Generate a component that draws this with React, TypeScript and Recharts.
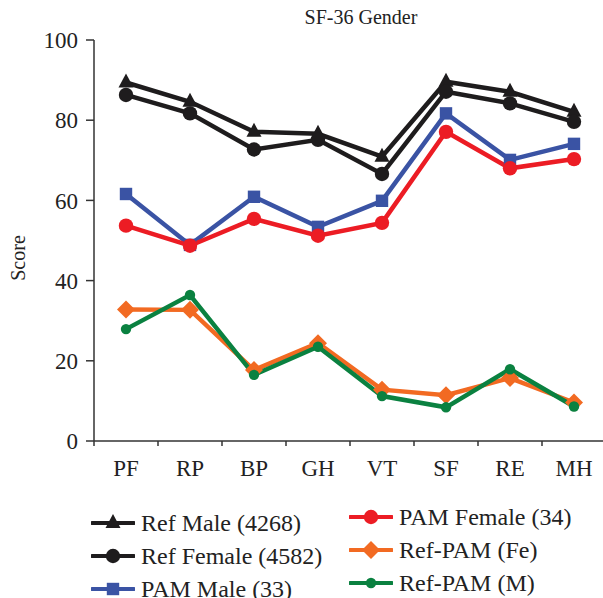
import React from 'react';
import { LineChart, Line, XAxis, YAxis } from 'recharts';

const categories = ['PF', 'RP', 'BP', 'GH', 'VT', 'SF', 'RE', 'MH'];
const refMale = [89.4, 84.6, 77.1, 76.6, 70.9, 89.6, 87.1, 82.1];
const refFemale = [86.3, 81.7, 72.7, 75.1, 66.6, 87.1, 84.2, 79.6];
const pamMale = [61.6, 48.9, 60.9, 53.4, 59.9, 81.7, 70.1, 74.1];
const pamFemale = [53.7, 48.7, 55.4, 51.2, 54.4, 77.1, 68.0, 70.3];
const refPamFe = [32.8, 32.7, 17.7, 24.4, 12.8, 11.4, 15.7, 9.6];
const refPamM = [27.9, 36.4, 16.5, 23.5, 11.2, 8.4, 17.9, 8.6];
const yTicks = [0, 20, 40, 60, 80, 100];

const data = categories.map((c, i) => ({
  cat: c,
  refMale: refMale[i],
  refFemale: refFemale[i],
  pamMale: pamMale[i],
  pamFemale: pamFemale[i],
  refPamFe: refPamFe[i],
  refPamM: refPamM[i],
}));

const FONT = '"Liberation Serif", "Times New Roman", serif';
const BLACK = '#1e1c1d';
const BLUE = '#3a53a4';
const RED = '#ec1c24';
const ORANGE = '#f26a22';
const GREEN = '#0a8140';

type MarkerKind = 'triangle' | 'circle' | 'square' | 'diamond' | 'smallCircle';

const marker = (kind: MarkerKind, cx: number, cy: number, color: string, key?: any) => {
  switch (kind) {
    case 'triangle':
      return <path key={key} d={`M${cx},${cy - 9} L${cx + 7.5},${cy + 5} L${cx - 7.5},${cy + 5} Z`} fill={color} />;
    case 'circle':
      return <circle key={key} cx={cx} cy={cy} r={7.2} fill={color} />;
    case 'square':
      return <rect key={key} x={cx - 6.2} y={cy - 6.2} width={12.4} height={12.4} fill={color} />;
    case 'diamond':
      return <path key={key} d={`M${cx},${cy - 9} L${cx + 9},${cy} L${cx},${cy + 9} L${cx - 9},${cy} Z`} fill={color} />;
    default:
      return <circle key={key} cx={cx} cy={cy} r={5.2} fill={color} />;
  }
};

const dotFn = (kind: MarkerKind, color: string) => (props: any) =>
  marker(kind, props.cx, props.cy, color, `${kind}-${props.index}`);

const XTick = (props: any) => {
  const { x, y, payload } = props;
  return (
    <g>
      <line x1={x - 32} y1={y} x2={x - 32} y2={y + 5} stroke="#333" strokeWidth={1.5} />
      <text x={x} y={y + 35} textAnchor="middle" fontFamily={FONT} fontSize={23} fill="#222">
        {payload.value}
      </text>
    </g>
  );
};

const ScoreLabel = () => (
  <text
    x={25}
    y={258}
    transform="rotate(-90, 25, 258)"
    textAnchor="middle"
    fontFamily={FONT}
    fontSize={20}
    fill="#222"
  >
    Score
  </text>
);

const legendLeft = [
  { name: 'Ref Male (4268)', color: BLACK, kind: 'triangle' as MarkerKind },
  { name: 'Ref Female (4582)', color: BLACK, kind: 'circle' as MarkerKind },
  { name: 'PAM Male (33)', color: BLUE, kind: 'square' as MarkerKind },
];
const legendRight = [
  { name: 'PAM Female (34)', color: RED, kind: 'circle' as MarkerKind },
  { name: 'Ref-PAM (Fe)', color: ORANGE, kind: 'diamond' as MarkerKind },
  { name: 'Ref-PAM (M)', color: GREEN, kind: 'smallCircle' as MarkerKind },
];

const LegendItem = ({ item, x, y }: { item: any; x: number; y: number }) => (
  <div style={{ position: 'absolute', left: x, top: y - 16, height: 32, display: 'flex', alignItems: 'center' }}>
    <svg width={44} height={32} style={{ marginRight: 6 }}>
      <line x1={1} y1={16} x2={43} y2={16} stroke={item.color} strokeWidth={4} strokeLinecap="round" />
      {marker(item.kind, 22, 16, item.color)}
    </svg>
    <span style={{ fontFamily: FONT, fontSize: 24, color: '#222', whiteSpace: 'nowrap' }}>{item.name}</span>
  </div>
);

const App: React.FC = () => {
  return (
    <div style={{ position: 'absolute', left: 0, top: 0, width: 603, height: 598, overflow: 'hidden', background: '#fff' }}>
      <div
        style={{
          position: 'absolute',
          left: 261,
          width: 200,
          top: 6,
          textAlign: 'center',
          fontFamily: FONT,
          fontSize: 20,
          color: '#222',
        }}
      >
        SF-36 Gender
      </div>
      <LineChart width={606} height={598} data={data} margin={{ top: 40, right: 0, left: 0, bottom: 117 }}>
        <XAxis
          dataKey="cat"
          padding={{ left: 32, right: 32 }}
          height={40}
          tickLine={false}
          tickSize={0}
          tickMargin={0}
          tick={<XTick />}
          stroke="#333"
          strokeWidth={1.5}
          interval={0}
        />
        <YAxis
          width={94}
          domain={[0, 100]}
          ticks={yTicks}
          tickSize={8}
          tickMargin={8}
          stroke="#333"
          strokeWidth={1.5}
          tick={{ fontFamily: FONT, fontSize: 23, fill: '#222' }}
          label={<ScoreLabel />}
        />
        <Line dataKey="refMale" stroke={BLACK} strokeWidth={4.5} dot={dotFn('triangle', BLACK)} isAnimationActive={false} />
        <Line dataKey="refFemale" stroke={BLACK} strokeWidth={4.5} dot={dotFn('circle', BLACK)} isAnimationActive={false} />
        <Line dataKey="pamMale" stroke={BLUE} strokeWidth={4.5} dot={dotFn('square', BLUE)} isAnimationActive={false} />
        <Line dataKey="pamFemale" stroke={RED} strokeWidth={4.5} dot={dotFn('circle', RED)} isAnimationActive={false} />
        <Line dataKey="refPamFe" stroke={ORANGE} strokeWidth={4.5} dot={dotFn('diamond', ORANGE)} isAnimationActive={false} />
        <Line dataKey="refPamM" stroke={GREEN} strokeWidth={4.5} dot={dotFn('smallCircle', GREEN)} isAnimationActive={false} />
      </LineChart>
      {legendLeft.map((it, i) => (
        <LegendItem key={it.name} item={it} x={91} y={523 + i * 33} />
      ))}
      {legendRight.map((it, i) => (
        <LegendItem key={it.name} item={it} x={349} y={517 + i * 33} />
      ))}
    </div>
  );
};

export default App;
